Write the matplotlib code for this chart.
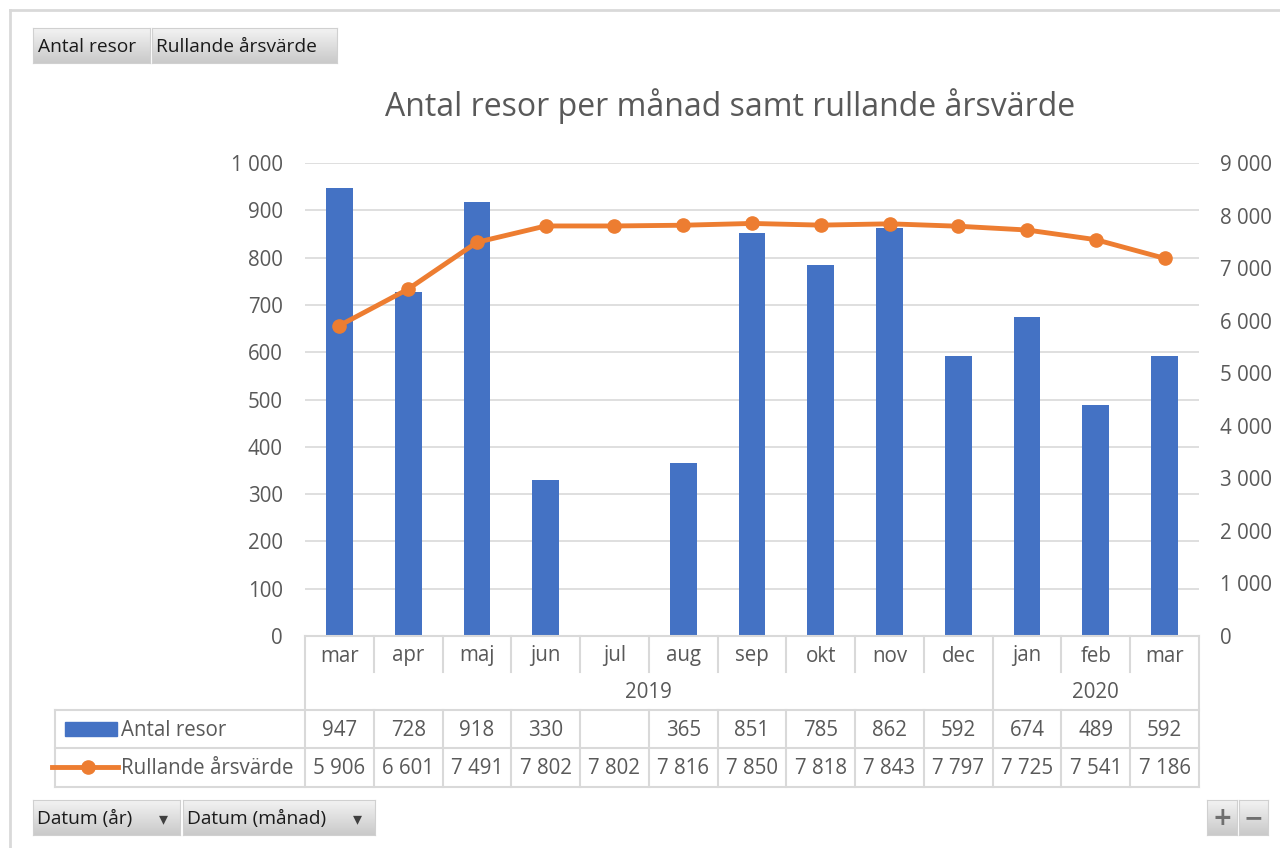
import numpy as np
import matplotlib.pyplot as plt
from matplotlib.ticker import FuncFormatter, MultipleLocator
from matplotlib.transforms import blended_transform_factory
from matplotlib.lines import Line2D
from matplotlib.patches import Rectangle

months = ['mar', 'apr', 'maj', 'jun', 'jul', 'aug', 'sep', 'okt', 'nov', 'dec', 'jan', 'feb', 'mar']
years = ['2019', '2020']
year_first = [0, 10]
year_last = [9, 12]
resor = [947, 728, 918, 330, np.nan, 365, 851, 785, 862, 592, 674, 489, 592]
rullande = [5906, 6601, 7491, 7802, 7802, 7816, 7850, 7818, 7843, 7797, 7725, 7541, 7186]

BLUE = '#4472C4'
ORANGE = '#ED7D31'
GRID = '#d9d9d9'
TXT = '#595959'
W, H = 1280, 848
FS = 14.8

plt.rcParams['font.family'] = ['Open Sans', 'DejaVu Sans']


def fx(px):
    return px / W


def fy(py):
    return 1 - py / H


def sp(v):
    return f'{v:,.0f}'.replace(',', ' ')


fig = plt.figure(figsize=(12.8, 8.48), dpi=100)
ax = fig.add_axes([fx(305), fy(636), fx(1199) - fx(305), fy(163) - fy(636)])
x = np.arange(len(months))
ax.bar(x, resor, width=0.39, color=BLUE, zorder=2)
ax.set_xlim(-0.5, 12.5)
ax.set_ylim(0, 1000)
ax.yaxis.set_major_locator(MultipleLocator(100))
ax.yaxis.set_major_formatter(FuncFormatter(lambda v, p: sp(v)))
ax.yaxis.grid(True, color=GRID, lw=1.2)
ax.set_axisbelow(True)
ax.set_xticks([])
ax.tick_params(axis='y', length=0, pad=16, labelsize=FS, labelcolor=TXT)
for s in ax.spines.values():
    s.set_visible(False)

ax2 = ax.twinx()
ax2.plot(x, rullande, color=ORANGE, lw=3.5, marker='o', ms=9.5, zorder=3)
ax2.set_ylim(0, 9000)
ax2.yaxis.set_major_locator(MultipleLocator(1000))
ax2.yaxis.set_major_formatter(FuncFormatter(lambda v, p: sp(v)))
ax2.tick_params(axis='y', length=0, pad=15, labelsize=FS, labelcolor=TXT)
for s in ax2.spines.values():
    s.set_visible(False)

fig.text(fx(730), fy(106), 'Antal resor per månad samt rullande årsvärde',
         ha='center', va='center', fontsize=23, color=TXT)

# data table under the chart
tr = blended_transform_factory(ax.transData, fig.transFigure)


def hline(x0, x1, py):
    fig.add_artist(Line2D([fx(x0), fx(x1)], [fy(py), fy(py)], color=GRID, lw=1.5))


def vline(xd, py0, py1):
    fig.add_artist(Line2D([xd, xd], [fy(py0), fy(py1)], transform=tr, color=GRID, lw=1.5))


hline(305, 1199, 636)
for py in (710, 748, 787):
    hline(55, 1199, py)
fig.add_artist(Line2D([fx(55), fx(55)], [fy(710), fy(787)], color=GRID, lw=1.5))
vline(-0.5, 636, 787)
vline(12.5, 636, 787)
for i in range(len(months) - 1):
    if i + 1 in year_first:
        vline(i + 0.5, 636, 787)
    else:
        vline(i + 0.5, 636, 672)
        vline(i + 0.5, 710, 787)

for i, m in enumerate(months):
    fig.text(i, fy(656), m, transform=tr, ha='center', va='center', fontsize=FS, color=TXT)
    if not np.isnan(resor[i]):
        fig.text(i, fy(730), sp(resor[i]), transform=tr, ha='center', va='center',
                 fontsize=FS, color=TXT)
    fig.text(i, fy(769), sp(rullande[i]), transform=tr, ha='center', va='center',
             fontsize=FS, color=TXT)
for yr, a, b in zip(years, year_first, year_last):
    fig.text((a + b) / 2, fy(692), yr, transform=tr, ha='center', va='center',
             fontsize=FS, color=TXT)

fig.add_artist(Rectangle((fx(65), fy(736)), fx(117) - fx(65), fy(722) - fy(736), color=BLUE))
fig.add_artist(Line2D([fx(52), fx(118)], [fy(767), fy(767)], color=ORANGE, lw=3.5))
fig.add_artist(Line2D([fx(88)], [fy(767)], color=ORANGE, marker='o', ms=9.5))
fig.text(fx(121), fy(730), 'Antal resor', ha='left', va='center', fontsize=FS, color=TXT)
fig.text(fx(121), fy(769), 'Rullande årsvärde', ha='left', va='center', fontsize=FS, color=TXT)

# outer chart frame
fig.add_artist(Line2D([fx(10), fx(1280)], [fy(10), fy(10)], color=GRID, lw=2))
fig.add_artist(Line2D([fx(10), fx(10)], [fy(10), fy(848)], color=GRID, lw=2))

# pivot field buttons
grad = np.linspace(0.95, 0.79, 50)[:, None] * np.ones((1, 2))


def button(x0, y0, x1, y1):
    bax = fig.add_axes([fx(x0), fy(y1), fx(x1) - fx(x0), fy(y0) - fy(y1)])
    bax.imshow(grad, cmap='gray', vmin=0, vmax=1, aspect='auto')
    bax.set_xticks([])
    bax.set_yticks([])
    for s in bax.spines.values():
        s.set_color('#d0d0d0')


button(33, 28, 150, 63)
button(152, 28, 337, 63)
button(33, 800, 180, 835)
button(183, 800, 375, 835)
button(1207, 800, 1237, 835)
button(1239, 800, 1268, 835)
BFS = 13.8
fig.text(fx(38), fy(47), 'Antal resor', ha='left', va='center', fontsize=BFS, color='#1a1a1a')
fig.text(fx(156), fy(47), 'Rullande årsvärde', ha='left', va='center', fontsize=BFS, color='#1a1a1a')
fig.text(fx(37), fy(819), 'Datum (år)', ha='left', va='center', fontsize=BFS, color='#1a1a1a')
fig.text(fx(187), fy(819), 'Datum (månad)', ha='left', va='center', fontsize=BFS, color='#1a1a1a')
for ax_ in (163, 357):
    fig.text(fx(ax_), fy(819), '▾', ha='center', va='center', fontsize=13,
             color='#404040', family='DejaVu Sans')
fig.text(fx(1222), fy(818), '+', ha='center', va='center', fontsize=17,
         color='#707070', fontweight='bold', family='DejaVu Sans')
fig.text(fx(1253.5), fy(818), '−', ha='center', va='center', fontsize=17,
         color='#707070', fontweight='bold', family='DejaVu Sans')

fig.savefig('out.png', dpi=100)
